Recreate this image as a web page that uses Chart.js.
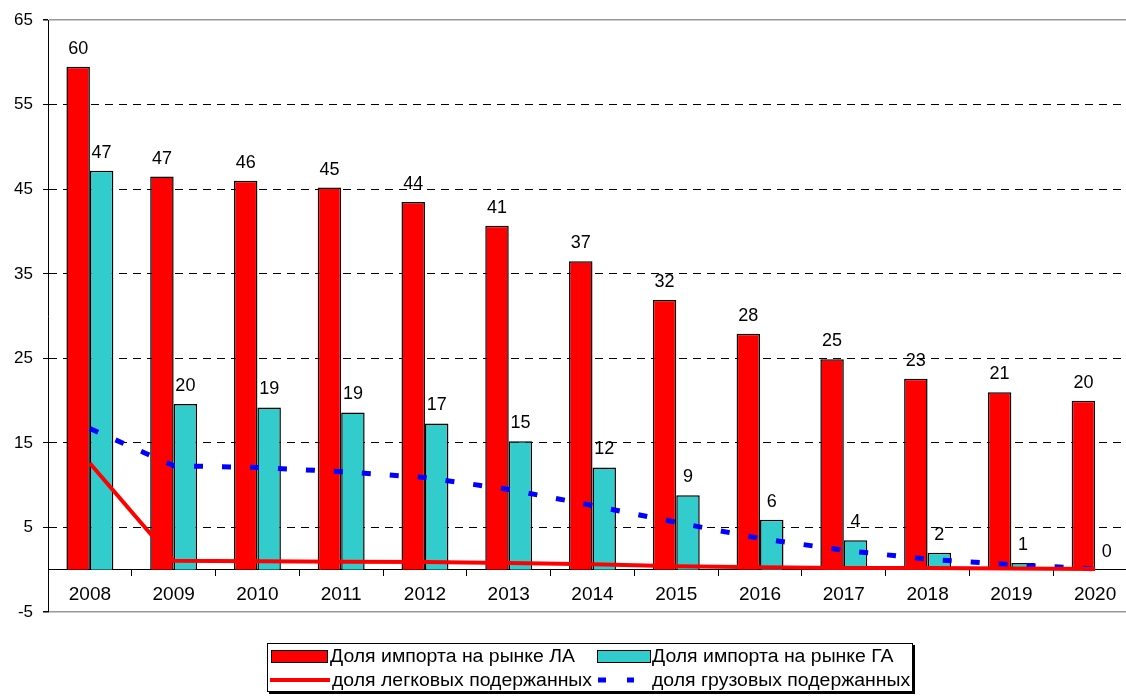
<!DOCTYPE html>
<html>
<head>
<meta charset="utf-8">
<script src="https://cdn.jsdelivr.net/npm/chart.js@4"></script>
<style>
  html, body { margin: 0; padding: 0; background: #fff; }
  #wrap { position: relative; width: 1126px; height: 696px; overflow: hidden; font-family: "Liberation Sans", Arial, sans-serif; }
  #myChart { position: absolute; left: 0; top: 0; }
  .box { position: absolute; left: 267px; top: 643px; width: 644px; height: 47px; border: 1px solid #000; box-shadow: 2px 2px 0 #000; background: #fff; }
  .lbl { position: absolute; font-size: 18px; line-height: 20px; white-space: nowrap; color: #000; transform: scaleX(1.08); transform-origin: left center; }
  .sw { position: absolute; width: 55px; height: 11px; border: 1px solid #000; }
  svg { position: absolute; }
</style>
</head>
<body>
<div id="wrap">
  <canvas id="myChart" width="1150" height="696"></canvas>
  <div class="box"></div>
  <div class="sw" style="left:271px; top:650px; background:#ff0000;"></div>
  <div class="lbl" style="left:330px; top:646px;">Доля импорта на рынке ЛА</div>
  <div class="sw" style="left:597px; top:650px; width:52px; background:#33cccc;"></div>
  <div class="lbl" style="left:652px; top:646px;">Доля импорта на рынке ГА</div>
  <svg style="left:270px; top:676px;" width="62" height="8"><line x1="0" y1="4" x2="60" y2="4" stroke="#ff0000" stroke-width="4"/></svg>
  <div class="lbl" style="left:332px; top:670px;">доля легковых подержанных</div>
  <svg style="left:598px; top:676px;" width="40" height="8"><line x1="0" y1="4" x2="36" y2="4" stroke="#0000ff" stroke-width="5" stroke-dasharray="8 21"/></svg>
  <div class="lbl" style="left:652px; top:670px;">доля грузовых подержанных</div>
</div>
<script>
"use strict";
const years = ["2008", "2009", "2010", "2011", "2012", "2013", "2014", "2015", "2016", "2017", "2018", "2019", "2020"];
const importLA = [59.5, 46.5, 46.0, 45.2, 43.5, 40.7, 36.5, 31.9, 27.9, 24.9, 22.6, 21.0, 20.0];
const importGA = [47.2, 19.6, 19.2, 18.6, 17.3, 15.2, 12.1, 8.8, 5.9, 3.5, 2.0, 0.8, 0];
const usedCars = [12.6, 1.05, 1.0, 0.95, 0.9, 0.8, 0.65, 0.4, 0.3, 0.2, 0.2, 0.15, 0.1];
const usedTrucks = [16.7, 12.3, 12.1, 11.6, 10.9, 9.5, 7.6, 5.6, 3.7, 2.3, 1.25, 0.6, 0.1];
const yMin = -5;
const yMax = 65;
const yStep = 10;

Chart.defaults.font.family = '"Liberation Sans", Arial, sans-serif';
Chart.defaults.color = "#000";

// numbers above the bars
const barLabels = {
  id: "barLabels",
  afterDatasetsDraw(chart) {
    const ctx = chart.ctx;
    ctx.save();
    ctx.font = '18px "Liberation Sans", Arial, sans-serif';
    ctx.fillStyle = "#000";
    ctx.textAlign = "center";
    ctx.textBaseline = "alphabetic";
    [0, 1].forEach((di) => {
      const meta = chart.getDatasetMeta(di);
      meta.data.forEach((bar, i) => {
        const v = chart.data.datasets[di].data[i];
        ctx.fillText(String(Math.round(v)), bar.x, bar.y - 13);
      });
    });
    ctx.restore();
  },
};

const isEdge = (c) => c.tick && (c.tick.value === yMin || c.tick.value === yMax);

const ctx = document.getElementById("myChart");
const myChart = new Chart(ctx, {
  type: "bar",
  data: {
    labels: years,
    datasets: [
      {
        label: "Доля импорта на рынке ЛА",
        data: importLA,
        backgroundColor: "#ff0000",
        borderColor: "#000",
        borderWidth: 1.5,
        order: 1,
      },
      {
        label: "Доля импорта на рынке ГА",
        data: importGA,
        backgroundColor: "#33cccc",
        borderColor: "#000",
        borderWidth: 1.5,
        order: 1,
      },
      {
        type: "line",
        label: "доля легковых подержанных",
        data: usedCars,
        borderColor: "#ff0000",
        borderWidth: 4,
        pointRadius: 0,
        tension: 0,
        fill: false,
        order: 0,
      },
      {
        type: "line",
        label: "доля грузовых подержанных",
        data: usedTrucks,
        borderColor: "#0000ff",
        borderWidth: 5,
        borderDash: [9, 19],
        borderCapStyle: "butt",
        pointRadius: 0,
        tension: 0,
        fill: false,
        order: 0,
      },
    ],
  },
  options: {
    responsive: false,
    animation: false,
    categoryPercentage: 0.56,
    barPercentage: 1,
    layout: { padding: { top: 19, right: 13, bottom: 84, left: 0 } },
    plugins: {
      legend: { display: false },
      tooltip: { enabled: false },
    },
    scales: {
      x: {
        position: { y: 0 },
        offset: true,
        grid: { offset: true, drawOnChartArea: false, drawTicks: true, tickLength: 6, tickColor: "#000" },
        border: { color: "#000", width: 1 },
        ticks: { font: { size: 19 }, padding: 8, maxRotation: 0, autoSkip: false },
      },
      y: {
        min: yMin,
        max: yMax,
        ticks: { stepSize: yStep, font: { size: 17 }, padding: 10 },
        grid: {
          color: (c) => (isEdge(c) ? "#999" : "#000"),
          lineWidth: (c) => (isEdge(c) ? 1.5 : 1),
          tickColor: "#000",
          tickLength: 5,
        },
        border: { color: "#000", width: 1, dash: (c) => (isEdge(c) ? [] : [8, 6]) },
        afterFit: (scale) => {
          scale.width = 48;
        },
      },
    },
  },
  plugins: [barLabels],
});
</script>
</body>
</html>
